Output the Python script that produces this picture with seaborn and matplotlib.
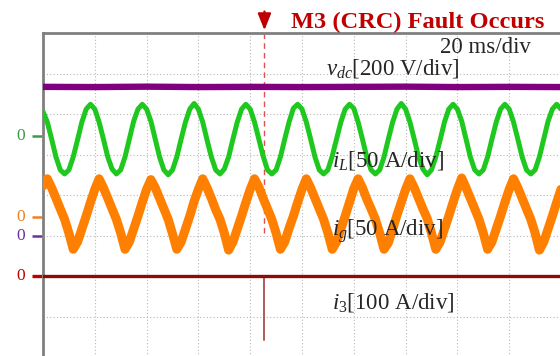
import numpy as np
import seaborn as sns
import matplotlib.pyplot as plt

# time base: 12 samples per 20 ms grid division, 10 divisions on screen
t_ms = np.arange(121) * 20 / 12
fault_t = 85.5  # ms, M3 (CRC) fault instant

# iL [A]
iL = [30, 17, -4, -26, -42, -47, -42, -26, -5, 17, 33, 39,
      33, 17, -4, -26, -41, -47, -42, -26, -4, 18, 33, 39,
      33, 18, -4, -26, -42, -48, -42, -26, -4, 17, 33, 40,
      33, 17, -5, -26, -42, -47, -41, -26, -4, 17, 33, 39,
      33, 17, -4, -25, -42, -47, -42, -26, -4, 17, 34, 39,
      33, 17, -4, -26, -42, -47, -42, -25, -4, 17, 33, 39,
      34, 17, -4, -26, -42, -47, -42, -26, -4, 17, 33, 40,
      33, 17, -4, -26, -41, -48, -42, -26, -5, 17, 33, 39,
      33, 18, -4, -26, -42, -47, -42, -26, -4, 17, 33, 39,
      33, 17, -4, -26, -42, -47, -42, -26, -4, 18, 33, 39,
      33]

# ig [A]
ig = [38, 47, 36, 23, 10, -3, -20, -40, -31, -15, 1, 18,
      34, 47, 36, 23, 10, -3, -20, -40, -31, -15, 1, 18,
      34, 46, 36, 23, 10, -3, -21, -40, -31, -15, 1, 19,
      34, 47, 36, 23, 9, -3, -20, -41, -31, -15, 1, 18,
      34, 47, 37, 23, 10, -3, -20, -40, -31, -14, 1, 18,
      34, 47, 36, 23, 10, -3, -20, -40, -31, -15, 1, 18,
      35, 47, 36, 22, 10, -3, -20, -40, -32, -15, 2, 18,
      34, 47, 36, 23, 10, -2, -20, -40, -31, -15, 1, 18,
      34, 48, 36, 23, 10, -3, -20, -40, -31, -15, 1, 18,
      34, 47, 36, 23, 10, -3, -20, -41, -31, -15, 1, 18,
      34]

# vdc [V] and i3 [A], read once per division
t_div = [0, 20, 40, 60, 80, 100, 120, 140, 160, 180, 200]
vdc = [734, 733, 735, 733, 734, 733, 734, 735, 733, 734, 733]
i3 = [0, 0, 0, 0, 0, 0, 0, 0, 0, 0, 0]
i3_spike = -157

# channel settings: zero level [div from bottom], scale per div, colour, label
channels = {
    'vdc': dict(zero=3.0, scale=200, color='#800080', zc='#7030a0',
                label=r'$v_{dc}$[200 V/div]'),
    'iL': dict(zero=5.46, scale=50, color='#1ec81e', zc='#3a9a4a',
               label=r'$i_L$[50 A/div]'),
    'ig': dict(zero=3.46, scale=50, color='#ff8000', zc='#f08020',
               label=r'$i_g$[50 A/div]'),
    'i3': dict(zero=2.0, scale=100, color='#8b0a0a', zc='#c00000',
               label=r'$i_3$[100 A/div]'),
}

sns.set_style('white')
plt.rcParams['font.family'] = ['Liberation Serif', 'DejaVu Serif']
plt.rcParams['mathtext.fontset'] = 'custom'
plt.rcParams['mathtext.rm'] = 'Liberation Serif'
plt.rcParams['mathtext.it'] = 'Liberation Serif:italic'

fig = plt.figure(figsize=(5.6, 3.56), dpi=100)
ax = fig.add_axes([43 / 560, -1 / 356, 518 / 560, 324 / 356])


def to_div(vals, ch):
    c = channels[ch]
    return c['zero'] + np.asarray(vals, dtype=float) / c['scale']


# fault marker (under the traces)
ax.plot([fault_t, fault_t], [8, 3.0], color='#e05050', lw=1.0,
        dashes=(4, 3), zorder=1)

sns.lineplot(x=t_div, y=to_div(vdc, 'vdc'), color=channels['vdc']['color'],
             lw=4.6, ax=ax, zorder=3)
sns.lineplot(x=t_ms, y=to_div(iL, 'iL'), color=channels['iL']['color'],
             lw=3.6, ax=ax, zorder=3)
sns.lineplot(x=t_ms, y=to_div(ig, 'ig'), color=channels['ig']['color'],
             lw=6.5, ax=ax, zorder=4)
sns.lineplot(x=t_div, y=to_div(i3, 'i3'), color=channels['i3']['color'],
             lw=2.4, ax=ax, zorder=3)
ax.plot([fault_t, fault_t], [channels['i3']['zero'], to_div([i3_spike], 'i3')[0]],
        color='#b05a5a', lw=1.4, zorder=2)

ax.set_xlim(0, 200)
ax.set_ylim(0, 8)
ax.set_xticks(t_div)
ax.set_yticks(range(9))
ax.tick_params(length=0, labelbottom=False, labelleft=False)
ax.grid(True, color='#b8b8b8', lw=0.8, ls=(0, (1, 2)))
for s in ['left', 'top', 'right', 'bottom']:
    ax.spines[s].set_color('#808080')
    ax.spines[s].set_linewidth(2)
ax.set_xlabel('')
ax.set_ylabel('')

# zero-level markers at the left edge
for ch in ['iL', 'ig', 'vdc', 'i3']:
    c = channels[ch]
    ax.plot([-4.2, -0.4], [c['zero'], c['zero']], color=c['zc'],
            lw=2.4 if ch == 'i3' else 1.8, clip_on=False, solid_capstyle='butt')
    ax.text(-8.5, c['zero'], '0', color=c['zc'], fontsize=12.5,
            ha='center', va='center')

# arrow and title
ax.annotate('', xy=(fault_t, 8.0), xytext=(fault_t, 8.6),
            arrowprops=dict(arrowstyle='-|>,head_length=1.0,head_width=0.4',
                            color='#c00000', lw=1.6),
            annotation_clip=False)
fig.text(291 / 560, 1 - 28.5 / 356, 'M3 (CRC) Fault Occurs', color='#c00000',
         fontsize=17.6, fontweight='bold', ha='left', va='baseline')

fig.text(440 / 560, 1 - 53.3 / 356, '20 ms/div', fontsize=16.5,
         ha='left', va='baseline')
label_pos = {'vdc': (326, 74), 'iL': (332, 166.5), 'ig': (332, 236),
             'i3': (332, 309)}
for ch, (px, py) in label_pos.items():
    fig.text(px / 560, 1 - py / 356, channels[ch]['label'], fontsize=16.5,
             ha='left', va='baseline')

fig.savefig('out.png', dpi=100)
